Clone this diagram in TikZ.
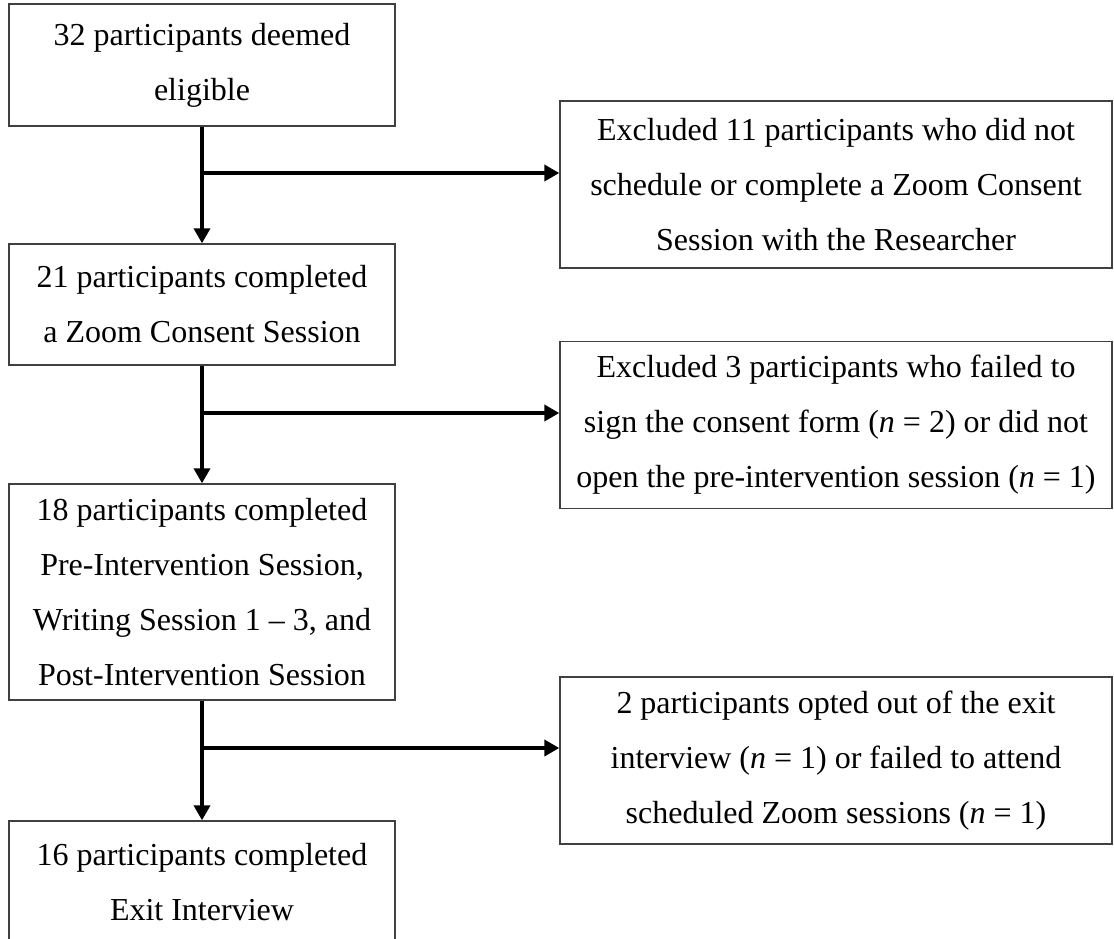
\documentclass[tikz,border=0pt]{standalone}
\usepackage{fontspec}
\setmainfont{Liberation Serif}
\usetikzlibrary{arrows.meta}
\begin{document}
\begin{tikzpicture}[x=1pt,y=-1pt,
  box/.style={draw=black!75, line width=1.4pt, inner sep=0pt, align=center,
    font=\fontsize{32}{55}\selectfont, minimum width=386pt},
  rbox/.style={draw=black!75, line width=1.4pt, inner sep=0pt, align=center,
    font=\fontsize{32}{55}\selectfont, minimum width=552pt, minimum height=167pt},
  flow/.style={line width=4pt, -{Triangle[length=15pt,width=16pt]}},
  trunk/.style={line width=4pt}]
\useasboundingbox (0,0) rectangle (1114,938);
\fill[white] (0,0) rectangle (1114,938);
\node[box, minimum height=122pt] (n1) at (202,65) {32 participants deemed\\eligible};
\node[box, minimum height=121pt] (n2) at (202,304.5) {21 participants completed\\a Zoom Consent Session};
\node[box, minimum height=216pt] (n3) at (202,592) {18 participants completed\\Pre-Intervention Session,\\Writing Session 1 -- 3, and\\Post-Intervention Session};
\node[box, minimum height=122pt] (n4) at (202,882) {16 participants completed\\Exit Interview};
\node[rbox] (nA) at (836,184.5) {Excluded 11 participants who did not\\schedule or complete a Zoom Consent\\Session with the Researcher};
\node[rbox] (nB) at (836,425) {Excluded 3 participants who failed to\\sign the consent form (\textit{n} = 2) or did not\\open the pre-intervention session (\textit{n} = 1)};
\node[rbox] (nC) at (836,760.5) {2 participants opted out of the exit\\interview (\textit{n} = 1) or failed to attend\\scheduled Zoom sessions (\textit{n} = 1)};
\coordinate (b1) at (202,173);
\coordinate (b2) at (202,413);
\coordinate (b3) at (202,748);
\draw[flow] (n1.south) -- (n2.north);
\draw[flow] (n2.south) -- (n3.north);
\draw[flow] (n3.south) -- (n4.north);
\draw[flow] (b1) -- (nA.west |- b1);
\draw[flow] (b2) -- (nB.west |- b2);
\draw[flow] (b3) -- (nC.west |- b3);
\end{tikzpicture}
\end{document}
